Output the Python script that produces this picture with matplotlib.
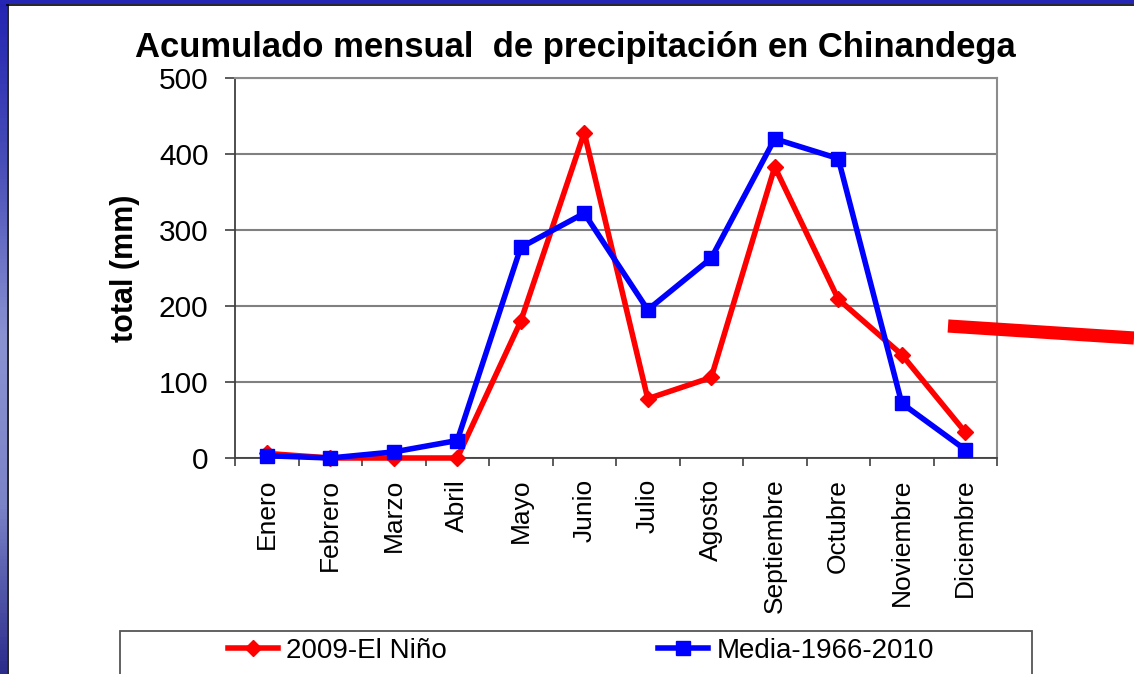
import matplotlib
matplotlib.use("Agg")
import matplotlib.pyplot as plt
import numpy as np
from matplotlib.lines import Line2D
from matplotlib.patches import Rectangle
from matplotlib.colors import LinearSegmentedColormap

plt.rcParams['font.family'] = ['Liberation Sans', 'DejaVu Sans']

months = ["Enero", "Febrero", "Marzo", "Abril", "Mayo", "Junio", "Julio",
          "Agosto", "Septiembre", "Octubre", "Noviembre", "Diciembre"]
nino_2009 = [6, 0, 0, 0, 180, 428, 78, 106, 383, 209, 136, 34]
media_1966_2010 = [3, 0, 8, 23, 277, 322, 195, 263, 420, 394, 72, 11]
yticks = [0, 100, 200, 300, 400, 500]

W, H = 1134, 674
fig = plt.figure(figsize=(W / 100, H / 100), dpi=100)
fig.patch.set_facecolor('white')

# slide frame decorations
axl = fig.add_axes([0, 0, 7 / W, 1])
cmap = LinearSegmentedColormap.from_list('frame', ['#2424b2', '#4a50b8', '#8a92d2', '#7c84c8', '#2c2c8c'])
axl.imshow(np.linspace(0, 1, 200).reshape(-1, 1), aspect='auto', cmap=cmap)
axl.axis('off')
axt = fig.add_axes([0, 1 - 4 / H, 1, 4 / H])
axt.set_facecolor('#2626b4')
axt.set_xticks([]); axt.set_yticks([])
for s in axt.spines.values():
    s.set_visible(False)
fig.add_artist(Line2D([7 / W, 1], [1 - 4.5 / H, 1 - 4.5 / H], color='black', lw=1.2))
fig.add_artist(Line2D([7.5 / W, 7.5 / W], [0, 1 - 4.5 / H], color='black', lw=1.2))

ax = fig.add_axes([235 / W, 1 - 458 / H, (997 - 235) / W, (458 - 78) / H])
x = np.arange(len(months))
ax.plot(x, nino_2009, color='#ff0000', lw=4, marker='D', markersize=8,
        markeredgecolor='#ff0000', label='2009-El Niño', zorder=3, clip_on=False)
ax.plot(x, media_1966_2010, color='#0000ff', lw=4, marker='s', markersize=10,
        markeredgecolor='#0000ff', label='Media-1966-2010', zorder=4, clip_on=False)

ax.set_xlim(-0.5, len(months) - 0.5)
ax.set_ylim(0, 500)
ax.set_yticks(yticks)
ax.set_yticklabels([str(v) for v in yticks], fontsize=21.5)
ax.set_xticks(x)
ax.set_xticklabels(months, rotation=90, fontsize=19)
ax.set_xticks(np.arange(-0.5, len(months)), minor=True)
ax.tick_params(axis='x', which='major', length=0, pad=15)
ax.tick_params(axis='x', which='minor', length=6, width=1.2, color='#404040')
ax.tick_params(axis='y', which='major', length=7, width=1.2, color='#404040', pad=12)
ax.yaxis.grid(True, color='#808080', lw=1.5)
ax.set_axisbelow(True)
for side in ['top', 'right']:
    ax.spines[side].set_color('#8c8c8c')
    ax.spines[side].set_linewidth(1.5)
for side in ['left', 'bottom']:
    ax.spines[side].set_color('#404040')
    ax.spines[side].set_linewidth(1.3)
ax.set_ylabel('total (mm)', fontsize=22, fontweight='bold', labelpad=14)
fig.text(575 / W, 1 - 48 / H, 'Acumulado mensual  de precipitación en Chinandega',
         ha='center', va='center', fontsize=24.9, fontweight='bold')

# legend box
fig.add_artist(Rectangle((120 / W, -0.05), (1032 - 120) / W, 0.05 + (674 - 631) / H,
                         transform=fig.transFigure, fill=False, edgecolor='#555555', lw=1.3))
h1, h2 = ax.get_lines()
leg1 = fig.legend(handles=[h1], loc='center left', bbox_to_anchor=(228 / W, 1 - 651 / H),
                  frameon=False, fontsize=20, handlelength=1.8, handletextpad=0.3,
                  borderpad=0, borderaxespad=0)
leg2 = fig.legend(handles=[h2], loc='center left', bbox_to_anchor=(658 / W, 1 - 651 / H),
                  frameon=False, fontsize=20, handlelength=1.8, handletextpad=0.3,
                  borderpad=0, borderaxespad=0)

# red pointer stroke
fig.add_artist(Line2D([948 / W, 1], [1 - 326 / H, 1 - 338 / H], color='#ff0000',
                      lw=9.5, solid_capstyle='butt'))

fig.savefig('out.png', dpi=100)
